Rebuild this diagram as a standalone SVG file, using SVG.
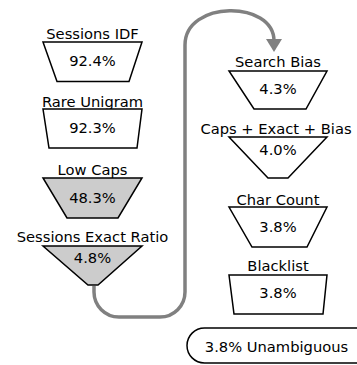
<svg xmlns="http://www.w3.org/2000/svg" width="357" height="365" viewBox="0 0 357 365">
<defs>
<style>
text{font-family:"DejaVu Sans","Liberation Sans",sans-serif;font-size:14.7px;fill:#000;text-anchor:middle}
.box{fill:#fff;stroke:#000;stroke-width:1.5;stroke-linejoin:miter}
.grey{fill:#cccccc}
.conn{fill:none;stroke:#808080;stroke-width:3.5}
.head{fill:#808080;stroke:none}
</style>
</defs>
<rect width="357" height="365" fill="#fff"/>
<g id="connectors">
<path class="conn" d="M94,286 V292 A25,25 0 0 0 119,317 H160 A25,25 0 0 0 185,292 V45 C185,0 274,0 274,41"/>
<polygon class="head" points="266,39 282,39 274,52"/>
</g>
<g id="sessions-idf">
<text x="92.5" y="39">Sessions IDF</text>
<polygon class="box" points="43,42 142,42 129,81.5 57,81.5"/>
<text x="92.5" y="66">92.4%</text>
</g>
<g id="rare-unigram">
<text x="92.5" y="107">Rare Unigram</text>
<polygon class="box" points="43,109 142,109 137,148 49,148"/>
<text x="92.5" y="132.5">92.3%</text>
</g>
<g id="low-caps">
<text x="92.5" y="175">Low Caps</text>
<polygon class="box grey" points="43,178 142,178 118,218 67,218"/>
<text x="92.5" y="203">48.3%</text>
</g>
<g id="sessions-exact-ratio">
<text x="92.5" y="242.3">Sessions Exact Ratio</text>
<polygon class="box grey" points="43,246 142,246 98,285 88,285"/>
<text x="92.5" y="262.7">4.8%</text>
</g>
<g id="search-bias">
<text x="278" y="67">Search Bias</text>
<polygon class="box" points="229,71 327,71 306,109 254,109"/>
<text x="278" y="94">4.3%</text>
</g>
<g id="caps-exact-bias">
<text x="276" y="134">Caps + Exact + Bias</text>
<polygon class="box" points="229,137 327,137 288,178 268,178"/>
<text x="278" y="155">4.0%</text>
</g>
<g id="char-count">
<text x="278" y="204.5">Char Count</text>
<polygon class="box" points="229,207 327,207 307,247 252,247"/>
<text x="278" y="232.3">3.8%</text>
</g>
<g id="blacklist">
<text x="278" y="270.7">Blacklist</text>
<polygon class="box" points="229,275 327,275 323,314 234,314"/>
<text x="278" y="298.3">3.8%</text>
</g>
<g id="unambiguous">
<rect class="box" x="187" y="328" width="200" height="35" rx="17.5" ry="17.5"/>
<text x="276.5" y="352">3.8% Unambiguous</text>
</g>
</svg>
